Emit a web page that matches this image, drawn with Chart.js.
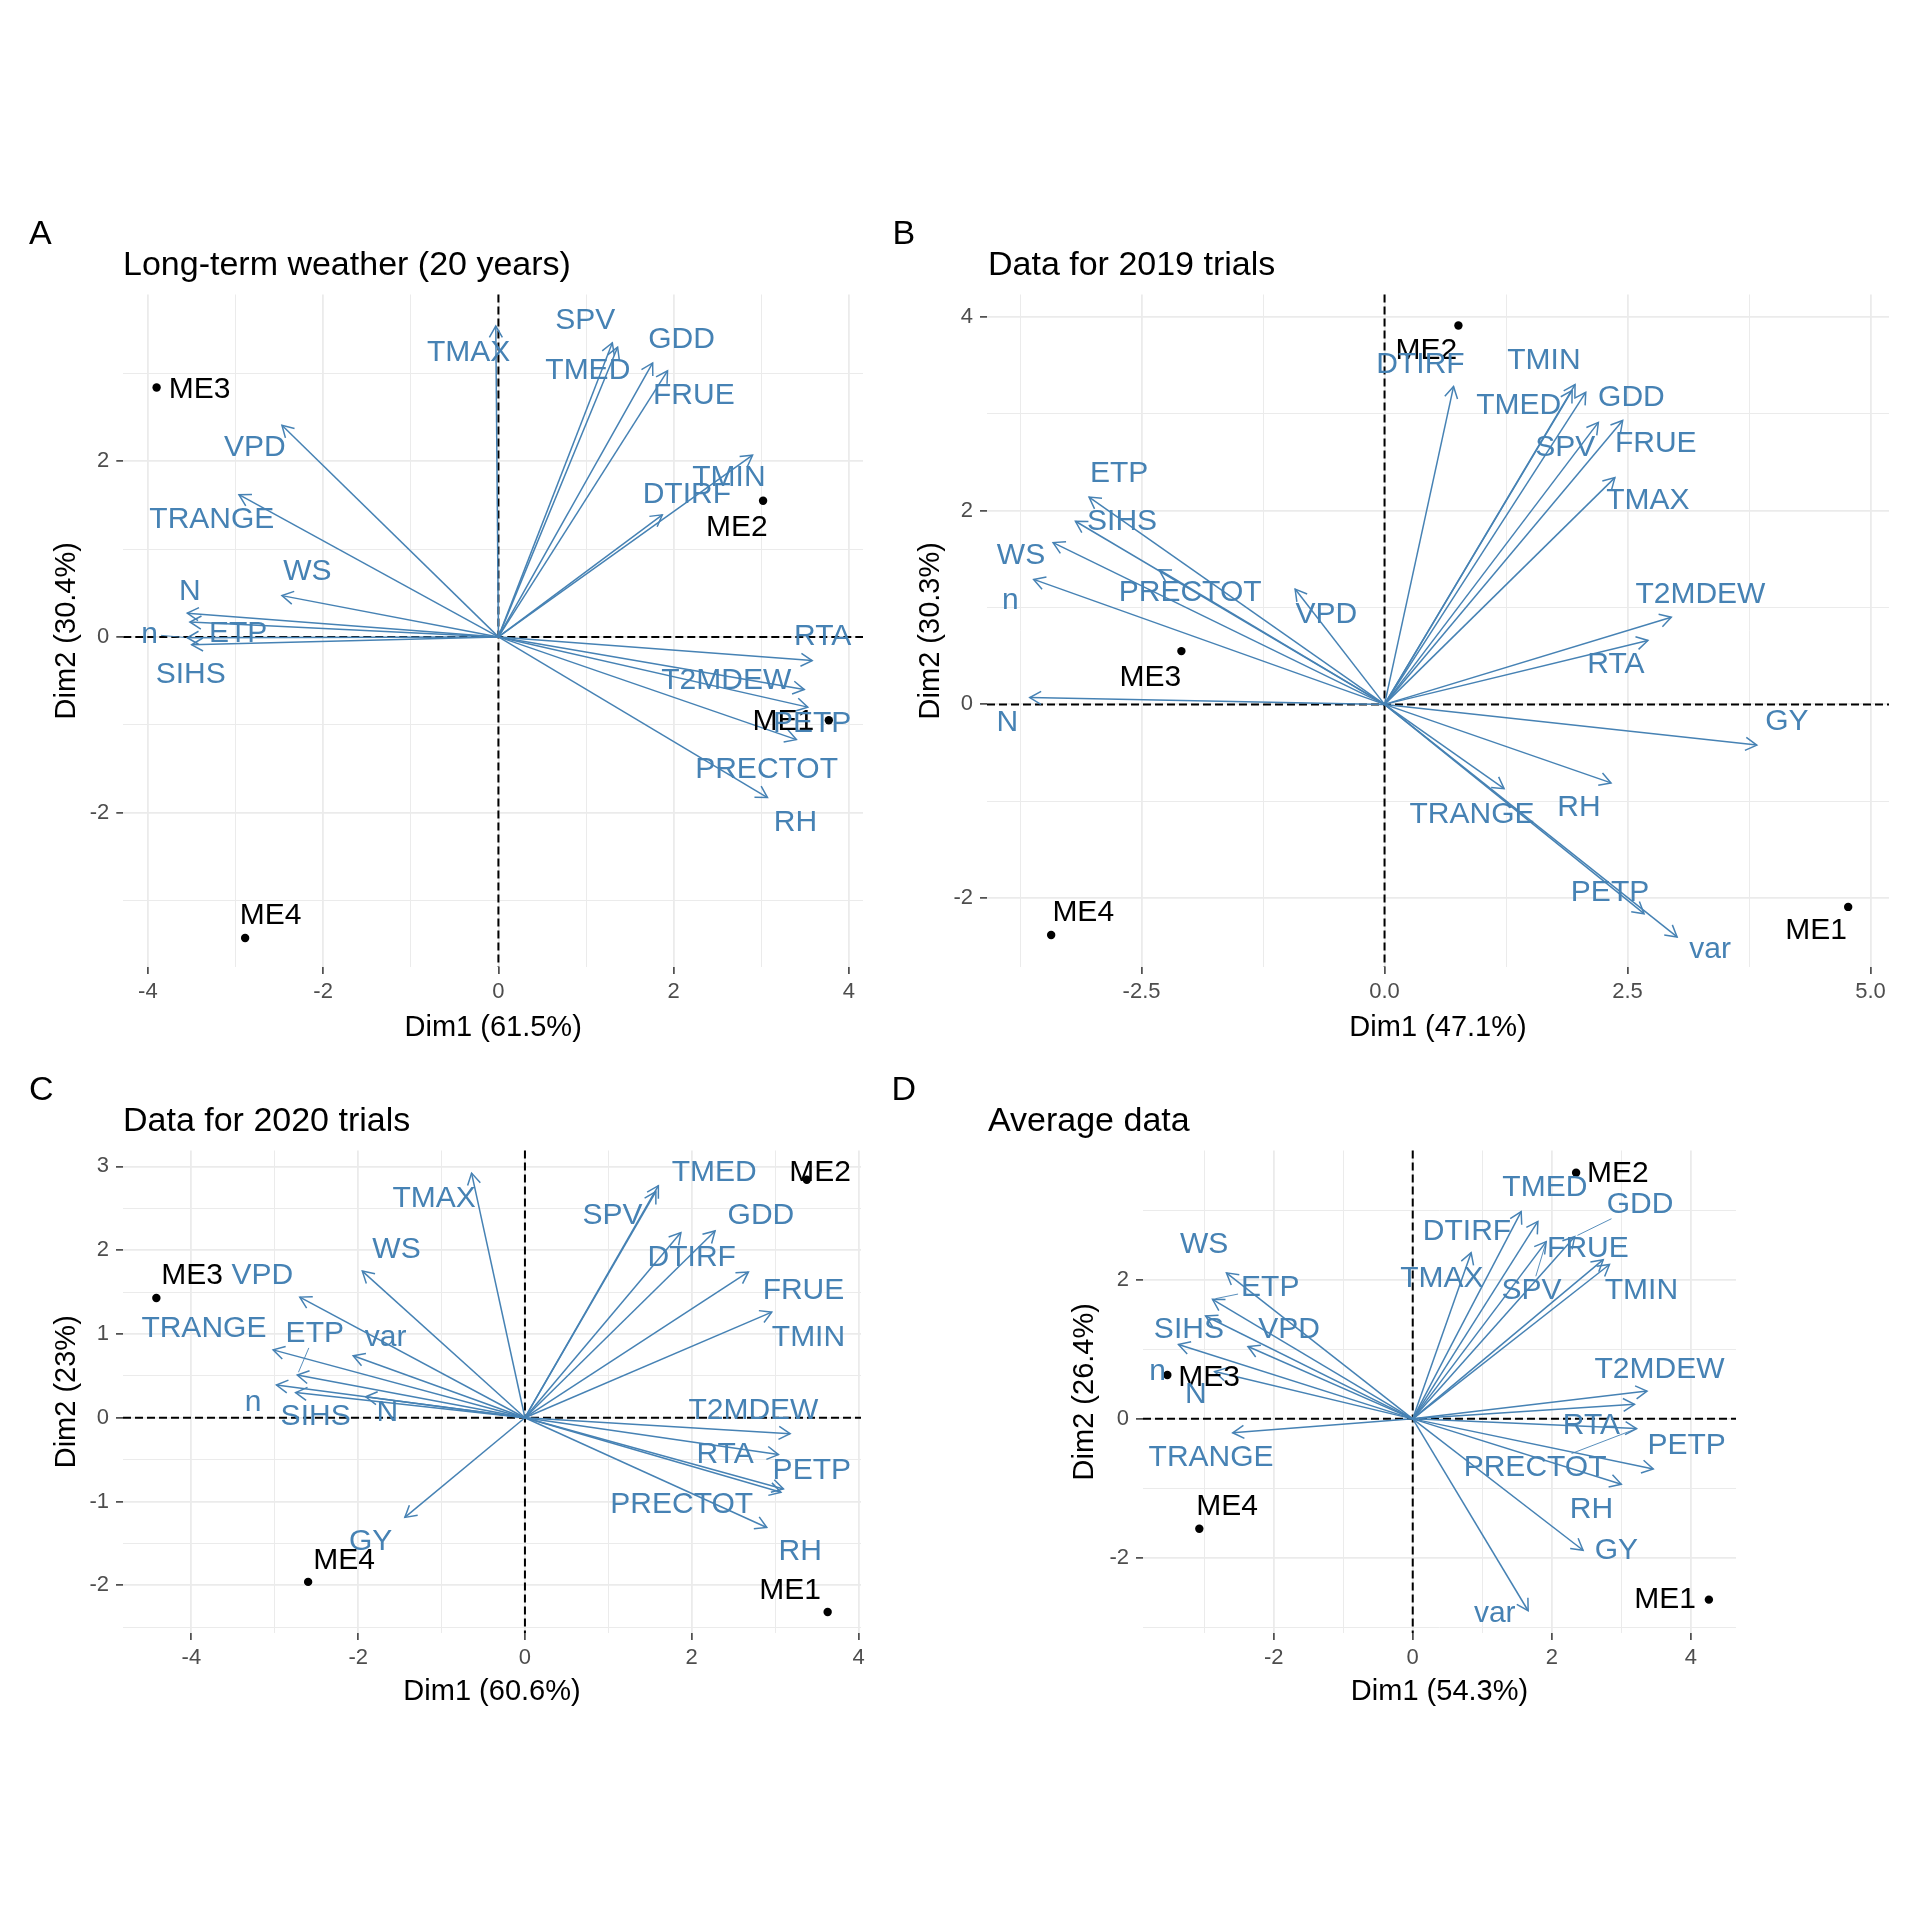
<!DOCTYPE html>
<html>
<head>
<meta charset="utf-8">
<script src="https://cdn.jsdelivr.net/npm/chart.js@4.4.1/dist/chart.umd.min.js"></script>
<style>
html, body { margin: 0; padding: 0; background: #ffffff; width: 1920px; height: 1920px; overflow: hidden; }
canvas { position: absolute; }
</style>
</head>
<body>
<canvas id="panelA"></canvas>
<canvas id="panelB"></canvas>
<canvas id="panelC"></canvas>
<canvas id="panelD"></canvas>
<script>
// ---------------- DATA ----------------
const ENV_NAMES = ['ME1', 'ME2', 'ME3', 'ME4'];

// Panel A: Long-term weather
const A_TAG = 'A';
const A_TITLE = 'Long-term weather (20 years)';
const A_X_TITLE = 'Dim1 (61.5%)';
const A_Y_TITLE = 'Dim2 (30.4%)';
const A_X_RANGE = [-4.28, 4.16];
const A_Y_RANGE = [-3.76, 3.90];
const A_X_TICKS = [-4, -2, 0, 2, 4];
const A_X_TICK_LABELS = ['-4', '-2', '0', '2', '4'];
const A_X_MINOR = [-3, -1, 1, 3];
const A_Y_TICKS = [-2, 0, 2];
const A_Y_TICK_LABELS = ['-2', '0', '2'];
const A_Y_MINOR = [-3, -1, 1, 3];
const A_ENV_DIM1 = [3.77, 3.02, -3.90, -2.89];
const A_ENV_DIM2 = [-0.95, 1.55, 2.84, -3.43];
const A_ENV_LABEL_DIM1 = [3.25, 2.72, -3.41, -2.60];
const A_ENV_LABEL_DIM2 = [-0.97, 1.24, 2.82, -3.18];
const A_VARS = ['TMAX','SPV','TMED','GDD','FRUE','TMIN','DTIRF','VPD','TRANGE','WS','N','n','ETP','SIHS','RTA','T2MDEW','PETP','PRECTOT','RH'];
const A_VAR_DIM1 = [-0.03, 1.30, 1.36, 1.76, 1.93, 2.90, 1.87, -2.47, -2.96, -2.47, -3.55, -3.55, -3.52, -3.50, 3.58, 3.49, 3.53, 3.40, 3.07];
const A_VAR_DIM2 = [3.54, 3.35, 3.30, 3.12, 3.03, 2.07, 1.39, 2.41, 1.62, 0.47, 0.27, -0.01, 0.17, -0.09, -0.27, -0.60, -0.80, -1.17, -1.83];
const A_VAR_LABEL_DIM1 = [-0.34, 0.99, 1.02, 2.09, 2.23, 2.63, 2.15, -2.78, -3.27, -2.18, -3.52, -3.98, -2.97, -3.51, 3.70, 2.60, 3.58, 3.06, 3.39];
const A_VAR_LABEL_DIM2 = [3.24, 3.60, 3.03, 3.39, 2.75, 1.81, 1.62, 2.15, 1.34, 0.74, 0.52, 0.03, 0.04, -0.43, 0.00, -0.50, -0.99, -1.51, -2.12];
const A_LEADERS = ['n'];

// Panel B: 2019 trials
const B_TAG = 'B';
const B_TITLE = 'Data for 2019 trials';
const B_X_TITLE = 'Dim1 (47.1%)';
const B_Y_TITLE = 'Dim2 (30.3%)';
const B_X_RANGE = [-4.09, 5.19];
const B_Y_RANGE = [-2.71, 4.23];
const B_X_TICKS = [-2.5, 0, 2.5, 5];
const B_X_TICK_LABELS = ['-2.5', '0.0', '2.5', '5.0'];
const B_X_MINOR = [-3.75, -1.25, 1.25, 3.75];
const B_Y_TICKS = [-2, 0, 2, 4];
const B_Y_TICK_LABELS = ['-2', '0', '2', '4'];
const B_Y_MINOR = [-1, 1, 3];
const B_ENV_DIM1 = [4.77, 0.76, -2.09, -3.43];
const B_ENV_DIM2 = [-2.09, 3.91, 0.55, -2.38];
const B_ENV_LABEL_DIM1 = [4.44, 0.43, -2.41, -3.10];
const B_ENV_LABEL_DIM2 = [-2.34, 3.65, 0.28, -2.15];
const B_VARS = ['ETP','SIHS','WS','n','N','PRECTOT','VPD','DTIRF','TMIN','TMED','GDD','SPV','FRUE','TMAX','T2MDEW','RTA','GY','RH','TRANGE','PETP','var'];
const B_VAR_DIM1 = [-3.04, -3.18, -3.41, -3.61, -3.65, -2.32, -0.92, 0.71, 1.96, 1.93, 2.07, 2.20, 2.45, 2.37, 2.95, 2.71, 3.83, 2.33, 1.23, 2.67, 3.01];
const B_VAR_DIM2 = [2.14, 1.89, 1.67, 1.29, 0.07, 1.39, 1.19, 3.28, 3.30, 3.24, 3.22, 2.91, 2.93, 2.34, 0.90, 0.66, -0.42, -0.81, -0.87, -2.16, -2.40];
const B_VAR_LABEL_DIM1 = [-2.73, -2.70, -3.74, -3.85, -3.88, -2.00, -0.60, 0.37, 1.64, 1.38, 2.54, 1.86, 2.79, 2.71, 3.25, 2.38, 4.14, 2.00, 0.90, 2.32, 3.35];
const B_VAR_LABEL_DIM2 = [2.38, 1.88, 1.53, 1.07, -0.19, 1.15, 0.93, 3.51, 3.55, 3.08, 3.16, 2.65, 2.69, 2.10, 1.13, 0.41, -0.18, -1.07, -1.14, -1.94, -2.53];
const B_LEADERS = [];

// Panel C: 2020 trials
const C_TAG = 'C';
const C_TITLE = 'Data for 2020 trials';
const C_X_TITLE = 'Dim1 (60.6%)';
const C_Y_TITLE = 'Dim2 (23%)';
const C_X_RANGE = [-4.82, 4.03];
const C_Y_RANGE = [-2.57, 3.19];
const C_X_TICKS = [-4, -2, 0, 2, 4];
const C_X_TICK_LABELS = ['-4', '-2', '0', '2', '4'];
const C_X_MINOR = [-3, -1, 1, 3];
const C_Y_TICKS = [-2, -1, 0, 1, 2, 3];
const C_Y_TICK_LABELS = ['-2', '-1', '0', '1', '2', '3'];
const C_Y_MINOR = [-2.5, -1.5, -0.5, 0.5, 1.5, 2.5];
const C_ENV_DIM1 = [3.63, 3.38, -4.42, -2.60];
const C_ENV_DIM2 = [-2.32, 2.84, 1.43, -1.96];
const C_ENV_LABEL_DIM1 = [3.18, 3.54, -3.99, -2.17];
const C_ENV_LABEL_DIM2 = [-2.07, 2.93, 1.70, -1.71];
const C_VARS = ['TMAX','WS','VPD','TRANGE','var','ETP','n','SIHS','N','GY','TMED','SPV','DTIRF','GDD','FRUE','TMIN','T2MDEW','RTA','PETP','PRECTOT','RH'];
const C_VAR_DIM1 = [-0.64, -1.95, -2.70, -3.02, -2.06, -2.73, -2.98, -2.75, -1.91, -1.44, 1.60, 1.57, 1.87, 2.28, 2.68, 2.96, 3.18, 3.04, 3.10, 3.07, 2.90];
const C_VAR_DIM2 = [2.92, 1.75, 1.44, 0.81, 0.74, 0.51, 0.39, 0.30, 0.25, -1.19, 2.77, 2.70, 2.21, 2.23, 1.74, 1.26, -0.19, -0.44, -0.85, -0.89, -1.31];
const C_VAR_LABEL_DIM1 = [-1.09, -1.54, -3.15, -3.85, -1.67, -2.52, -3.26, -2.51, -1.65, -1.85, 2.27, 1.05, 2.00, 2.83, 3.34, 3.40, 2.74, 2.40, 3.44, 1.88, 3.30];
const C_VAR_LABEL_DIM2 = [2.62, 2.01, 1.70, 1.06, 0.96, 1.00, 0.18, 0.01, 0.06, -1.48, 2.93, 2.41, 1.91, 2.41, 1.51, 0.95, 0.08, -0.44, -0.63, -1.04, -1.60];
const C_LEADERS = ['ETP'];

// Panel D: Average data
const D_TAG = 'D';
const D_TITLE = 'Average data';
const D_X_TITLE = 'Dim1 (54.3%)';
const D_Y_TITLE = 'Dim2 (26.4%)';
const D_X_RANGE = [-3.88, 4.65];
const D_Y_RANGE = [-3.08, 3.86];
const D_X_TICKS = [-2, 0, 2, 4];
const D_X_TICK_LABELS = ['-2', '0', '2', '4'];
const D_X_MINOR = [-3, -1, 1, 3];
const D_Y_TICKS = [-2, 0, 2];
const D_Y_TICK_LABELS = ['-2', '0', '2'];
const D_Y_MINOR = [-3, -1, 1, 3];
const D_ENV_DIM1 = [4.26, 2.35, -3.53, -3.07];
const D_ENV_DIM2 = [-2.60, 3.54, 0.63, -1.58];
const D_ENV_LABEL_DIM1 = [3.63, 2.95, -2.93, -2.67];
const D_ENV_LABEL_DIM2 = [-2.60, 3.53, 0.59, -1.27];
const D_VARS = ['WS','ETP','SIHS','n','VPD','N','TRANGE','TMAX','DTIRF','TMED','SPV','GDD','FRUE','TMIN','T2MDEW','RTA','PRECTOT','PETP','RH','GY','var'];
const D_VAR_DIM1 = [-2.68, -2.88, -2.98, -3.37, -2.37, -2.85, -2.59, 0.84, 1.56, 1.80, 1.92, 2.33, 2.74, 2.83, 3.37, 3.19, 3.22, 3.46, 3.00, 2.45, 1.66];
const D_VAR_DIM2 = [2.10, 1.72, 1.48, 1.07, 1.04, 0.68, -0.20, 2.39, 2.98, 2.84, 2.55, 2.62, 2.29, 2.22, 0.40, 0.21, -0.14, -0.72, -0.94, -1.89, -2.76];
const D_VAR_LABEL_DIM1 = [-3.00, -2.05, -3.22, -3.67, -1.78, -3.12, -2.90, 0.42, 0.78, 1.90, 1.71, 3.27, 2.52, 3.29, 3.55, 2.57, 1.76, 3.94, 2.57, 2.93, 1.18];
const D_VAR_LABEL_DIM2 = [2.50, 1.89, 1.28, 0.68, 1.28, 0.35, -0.56, 2.02, 2.69, 3.32, 1.85, 3.08, 2.45, 1.85, 0.70, -0.10, -0.70, -0.38, -1.30, -1.90, -2.81];
const D_LEADERS = ['ETP', 'GDD', 'SPV', 'PRECTOT'];

// ---------------- STYLE / LAYOUT ----------------
const FONT = '"Liberation Sans", Arial, sans-serif';
const BLUE = '#4682B4';
const GRID = '#EBEBEB';

const LAYOUT = {
  panelA: { left: 0,   top: 200,  width: 960,  height: 860, pad: { left: 20,  right: 97,  top: 94.5, bottom: 13 }, yW: 103.3, xH: 80, yTitlePad: 29.6, xTitlePad: 1.2, tagX: 29, titleX: 123 },
  panelB: { left: 880, top: 200,  width: 1040, height: 860, pad: { left: 10,  right: 31,  top: 94.5, bottom: 13 }, yW: 97,    xH: 80, yTitlePad: 23.2, xTitlePad: 1.2, tagX: 12.5, titleX: 108 },
  panelC: { left: 0,   top: 1056, width: 960,  height: 664, pad: { left: 20,  right: 99,  top: 94.5, bottom: 7 },  yW: 103,   xH: 80, yTitlePad: 29.6, xTitlePad: 3.2, tagX: 29, titleX: 123 },
  panelD: { left: 880, top: 1056, width: 1040, height: 664, pad: { left: 150, right: 184, top: 94.5, bottom: 7 },  yW: 113,   xH: 80, yTitlePad: 37.6, xTitlePad: 3.2, tagX: 11.5, titleX: 108 }
};

const PANELS = {
  panelA: { tag: A_TAG, title: A_TITLE, xTitle: A_X_TITLE, yTitle: A_Y_TITLE, xRange: A_X_RANGE, yRange: A_Y_RANGE,
    xTicks: A_X_TICKS, xTickLabels: A_X_TICK_LABELS, xMinor: A_X_MINOR, yTicks: A_Y_TICKS, yTickLabels: A_Y_TICK_LABELS, yMinor: A_Y_MINOR,
    envX: A_ENV_DIM1, envY: A_ENV_DIM2, envLX: A_ENV_LABEL_DIM1, envLY: A_ENV_LABEL_DIM2,
    vars: A_VARS, varX: A_VAR_DIM1, varY: A_VAR_DIM2, varLX: A_VAR_LABEL_DIM1, varLY: A_VAR_LABEL_DIM2, leaders: A_LEADERS },
  panelB: { tag: B_TAG, title: B_TITLE, xTitle: B_X_TITLE, yTitle: B_Y_TITLE, xRange: B_X_RANGE, yRange: B_Y_RANGE,
    xTicks: B_X_TICKS, xTickLabels: B_X_TICK_LABELS, xMinor: B_X_MINOR, yTicks: B_Y_TICKS, yTickLabels: B_Y_TICK_LABELS, yMinor: B_Y_MINOR,
    envX: B_ENV_DIM1, envY: B_ENV_DIM2, envLX: B_ENV_LABEL_DIM1, envLY: B_ENV_LABEL_DIM2,
    vars: B_VARS, varX: B_VAR_DIM1, varY: B_VAR_DIM2, varLX: B_VAR_LABEL_DIM1, varLY: B_VAR_LABEL_DIM2, leaders: B_LEADERS },
  panelC: { tag: C_TAG, title: C_TITLE, xTitle: C_X_TITLE, yTitle: C_Y_TITLE, xRange: C_X_RANGE, yRange: C_Y_RANGE,
    xTicks: C_X_TICKS, xTickLabels: C_X_TICK_LABELS, xMinor: C_X_MINOR, yTicks: C_Y_TICKS, yTickLabels: C_Y_TICK_LABELS, yMinor: C_Y_MINOR,
    envX: C_ENV_DIM1, envY: C_ENV_DIM2, envLX: C_ENV_LABEL_DIM1, envLY: C_ENV_LABEL_DIM2,
    vars: C_VARS, varX: C_VAR_DIM1, varY: C_VAR_DIM2, varLX: C_VAR_LABEL_DIM1, varLY: C_VAR_LABEL_DIM2, leaders: C_LEADERS },
  panelD: { tag: D_TAG, title: D_TITLE, xTitle: D_X_TITLE, yTitle: D_Y_TITLE, xRange: D_X_RANGE, yRange: D_Y_RANGE,
    xTicks: D_X_TICKS, xTickLabels: D_X_TICK_LABELS, xMinor: D_X_MINOR, yTicks: D_Y_TICKS, yTickLabels: D_Y_TICK_LABELS, yMinor: D_Y_MINOR,
    envX: D_ENV_DIM1, envY: D_ENV_DIM2, envLX: D_ENV_LABEL_DIM1, envLY: D_ENV_LABEL_DIM2,
    vars: D_VARS, varX: D_VAR_DIM1, varY: D_VAR_DIM2, varLX: D_VAR_LABEL_DIM1, varLY: D_VAR_LABEL_DIM2, leaders: D_LEADERS }
};

// ---------------- PLUGIN ----------------
const biplotPlugin = {
  id: 'biplot',
  beforeDatasetsDraw(chart) {
    const { ctx, chartArea: a, scales: { x, y } } = chart;
    const x0 = x.getPixelForValue(0), y0 = y.getPixelForValue(0);
    ctx.save();
    ctx.strokeStyle = '#000000';
    ctx.lineWidth = 2;
    ctx.setLineDash([8, 4]);
    ctx.beginPath();
    ctx.moveTo(a.left, y0); ctx.lineTo(a.right, y0);
    ctx.moveTo(x0, a.top); ctx.lineTo(x0, a.bottom);
    ctx.stroke();
    ctx.restore();
  },
  afterDatasetsDraw(chart) {
    const P = PANELS[chart.canvas.id];
    const { ctx, scales: { x, y } } = chart;
    ctx.save();
    // arrow heads
    ctx.strokeStyle = BLUE;
    ctx.lineWidth = 1.5;
    ctx.lineCap = 'butt';
    chart.data.datasets.forEach((ds, i) => {
      if (!ds.isArrow) return;
      const meta = chart.getDatasetMeta(i);
      const p0 = meta.data[0], p1 = meta.data[1];
      const ang = Math.atan2(p1.y - p0.y, p1.x - p0.x);
      const L = 13, A = Math.PI / 6;
      ctx.beginPath();
      ctx.moveTo(p1.x - L * Math.cos(ang - A), p1.y - L * Math.sin(ang - A));
      ctx.lineTo(p1.x, p1.y);
      ctx.lineTo(p1.x - L * Math.cos(ang + A), p1.y - L * Math.sin(ang + A));
      ctx.stroke();
    });
    ctx.font = '30px ' + FONT;
    ctx.textAlign = 'center';
    ctx.textBaseline = 'middle';
    // leader segments (label -> arrow tip)
    ctx.lineWidth = 0.9;
    P.leaders.forEach(name => {
      const k = P.vars.indexOf(name);
      const lx = x.getPixelForValue(P.varLX[k]), ly = y.getPixelForValue(P.varLY[k]);
      const tx = x.getPixelForValue(P.varX[k]), ty = y.getPixelForValue(P.varY[k]);
      const hw = ctx.measureText(name).width / 2 + 3, hh = 14;
      const dx = tx - lx, dy = ty - ly;
      const t = Math.min(dx !== 0 ? hw / Math.abs(dx) : Infinity, dy !== 0 ? hh / Math.abs(dy) : Infinity);
      const len = Math.hypot(dx, dy);
      if (t >= 1) return;
      const sx = lx + dx * t, sy = ly + dy * t;
      const ex = tx - dx / len * 3, ey = ty - dy / len * 3;
      ctx.beginPath(); ctx.moveTo(sx, sy); ctx.lineTo(ex, ey); ctx.stroke();
    });
    // environment labels
    ctx.fillStyle = '#000000';
    ENV_NAMES.forEach((n, i) => {
      ctx.fillText(n, x.getPixelForValue(P.envLX[i]), y.getPixelForValue(P.envLY[i]));
    });
    // variable labels
    ctx.fillStyle = BLUE;
    P.vars.forEach((n, i) => {
      ctx.fillText(n, x.getPixelForValue(P.varLX[i]), y.getPixelForValue(P.varLY[i]));
    });
    ctx.restore();
  },
  afterDraw(chart) {
    const P = PANELS[chart.canvas.id];
    const G = LAYOUT[chart.canvas.id];
    const ctx = chart.ctx;
    ctx.save();
    ctx.fillStyle = '#000000';
    ctx.textAlign = 'left';
    ctx.textBaseline = 'alphabetic';
    ctx.font = '34px ' + FONT;
    ctx.fillText(P.tag, G.tagX, 44);
    ctx.fillText(P.title, G.titleX, 74.5);
    ctx.restore();
  }
};

// ---------------- BUILD ----------------
function near(list, v) { return list.findIndex(m => Math.abs(m - v) < 1e-9); }

function makeAxis(pos, range, major, labels, minor, title, G) {
  const all = major.concat(minor).sort((a, b) => a - b);
  const isX = pos === 'bottom';
  return {
    type: 'linear',
    position: pos,
    min: range[0],
    max: range[1],
    bounds: 'data',
    afterBuildTicks: s => { s.ticks = all.map(v => ({ value: v })); },
    afterFit: s => { if (isX) { s.height = G.xH; } else { s.width = G.yW; } },
    ticks: {
      autoSkip: false, maxRotation: 0, minRotation: 0,
      padding: isX ? 4.5 : 7,
      color: '#4D4D4D',
      font: { family: FONT, size: 22 },
      callback: v => { const k = near(major, v); return k >= 0 ? labels[k] : ''; }
    },
    grid: {
      color: GRID,
      lineWidth: c => (c.tick && near(major, c.tick.value) >= 0) ? 1.8 : 1.0,
      drawTicks: true,
      tickLength: 7,
      tickWidth: 1.5,
      tickColor: c => (c.tick && near(major, c.tick.value) >= 0) ? '#333333' : 'rgba(0,0,0,0)'
    },
    border: { display: false },
    title: {
      display: true, text: title, color: '#000000',
      font: { family: FONT, size: 29 },
      padding: isX ? { top: 0, bottom: G.xTitlePad } : { top: G.yTitlePad, bottom: 0 }
    }
  };
}

function build(id) {
  const P = PANELS[id];
  const G = LAYOUT[id];
  const cv = document.getElementById(id);
  cv.width = G.width; cv.height = G.height;
  cv.style.left = G.left + 'px'; cv.style.top = G.top + 'px';
  cv.style.width = G.width + 'px'; cv.style.height = G.height + 'px';

  const datasets = [];
  P.vars.forEach((v, i) => {
    datasets.push({
      label: v, isArrow: true, showLine: true,
      data: [{ x: 0, y: 0 }, { x: P.varX[i], y: P.varY[i] }],
      borderColor: BLUE, borderWidth: 1.5, borderCapStyle: 'butt',
      pointRadius: 0, pointHoverRadius: 0, fill: false, tension: 0
    });
  });
  datasets.push({
    label: 'Environments',
    data: P.envX.map((v, i) => ({ x: v, y: P.envY[i] })),
    showLine: false, pointRadius: 4.2, pointBackgroundColor: '#000000', pointBorderWidth: 0, pointHoverRadius: 4.2
  });

  new Chart(cv, {
    type: 'scatter',
    data: { datasets },
    options: {
      responsive: false, animation: false, devicePixelRatio: 1,
      events: [],
      layout: { padding: G.pad },
      plugins: { legend: { display: false }, tooltip: { enabled: false }, title: { display: false } },
      scales: {
        x: makeAxis('bottom', P.xRange, P.xTicks, P.xTickLabels, P.xMinor, P.xTitle, G),
        y: makeAxis('left', P.yRange, P.yTicks, P.yTickLabels, P.yMinor, P.yTitle, G)
      }
    },
    plugins: [biplotPlugin]
  });
}

['panelA', 'panelB', 'panelC', 'panelD'].forEach(build);
</script>
</body>
</html>
